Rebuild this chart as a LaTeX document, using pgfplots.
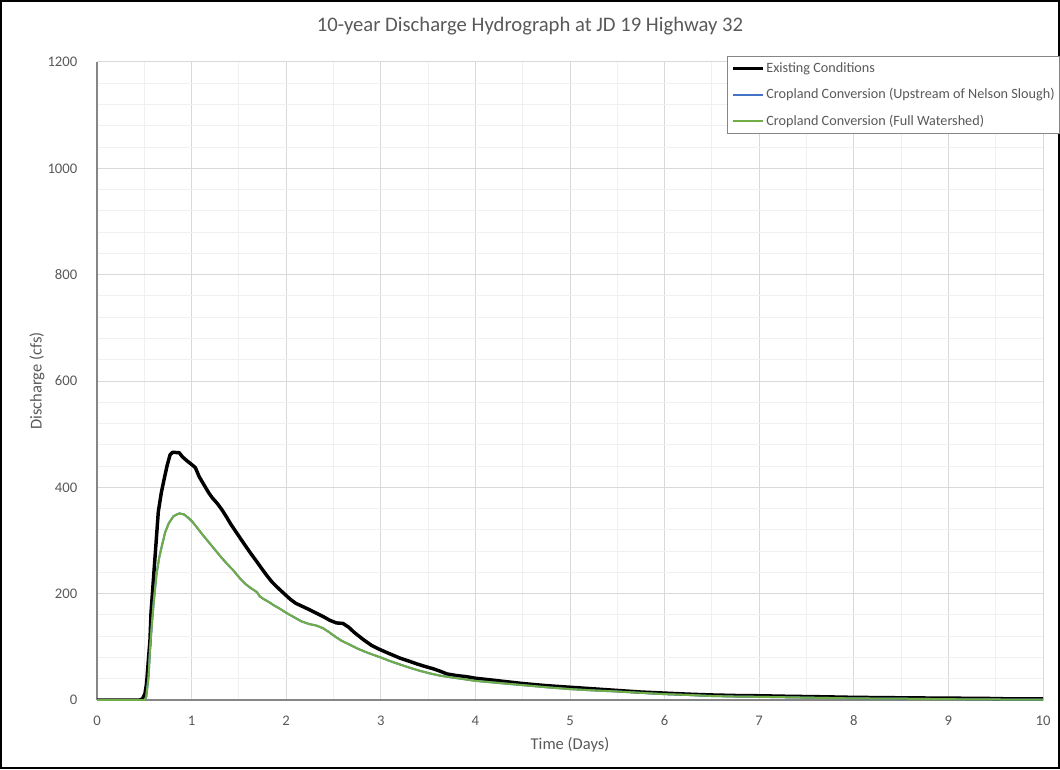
\documentclass[border=0pt]{standalone}
\usepackage{fontspec}
\setmainfont{Carlito}
\usepackage{pgfplots}
\pgfplotsset{compat=1.18}
\definecolor{txtgray}{HTML}{595959}
\definecolor{axgray}{HTML}{868686}
\definecolor{majgrid}{HTML}{D9D9D9}
\definecolor{mingrid}{HTML}{F0F0F0}
\definecolor{exblue}{HTML}{4472C4}
\definecolor{exgreen}{HTML}{70AD47}
\begin{document}
\begin{tikzpicture}
\useasboundingbox (0,0) rectangle (795pt,576.75pt);
\draw[black, line width=1.2pt] (0.9pt,0.9pt) rectangle (794.1pt,575.85pt);
\begin{axis}[
  at={(72.75pt,51.75pt)}, anchor=south west,
  scale only axis, width=709.5pt, height=478.5pt,
  xmin=0, xmax=10, ymin=0, ymax=1200,
  xtick={0,1,...,10}, ytick={0,200,...,1200},
  minor x tick num=1, minor y tick num=4,
  grid=both,
  major grid style={majgrid, line width=0.75pt},
  minor grid style={mingrid, line width=0.75pt},
  major tick length=0pt, minor tick length=0pt,
  axis lines*=left,
  axis line style={-, draw=axgray, line width=0.9pt},
  /pgf/number format/assume math mode=true,
  /pgf/number format/1000 sep={},
  tick label style={font=\fontsize{11}{13}\selectfont, text=txtgray},
  xticklabel style={anchor=center, yshift=-15.75pt},
  yticklabel style={anchor=east, xshift=-11.25pt},
  xlabel={Time (Days)},
  ylabel={Discharge (cfs)},
  label style={font=\fontsize{12.4}{14}\selectfont, text=txtgray},
  xlabel style={at={(axis description cs:0.5,-0.0705)}, anchor=center},
  ylabel style={at={(axis description cs:-0.0634,0.5)}, anchor=center},
  title={10-year Discharge Hydrograph at JD 19 Highway 32},
  title style={at={(axis description cs:0.4577,1.0439)}, anchor=center, font=\fontsize{15.5}{18}\selectfont, text=txtgray},
  legend style={at={(axis description cs:0.666,1.0094)}, anchor=north west,
    draw=axgray, fill=white, line width=0.75pt,
    font=\fontsize{10.65}{12.5}\selectfont, text=txtgray,
    inner xsep=3pt, inner ysep=3.5pt, row sep=8.5pt,
    nodes={inner sep=1pt}},
  legend cell align=left,
  legend image code/.code={\draw[#1] (0pt,0pt) -- (22.5pt,0pt);},
]
\addplot[black, line width=2.6pt, line join=round] coordinates {
(0,0) (0.45,0) (0.48,2) (0.507,12) (0.524,31) (0.543,75) (0.56,113) (0.571,164)
(0.60,236) (0.62,285) (0.648,354) (0.68,390) (0.708,414) (0.74,440) (0.772,461)
(0.80,466) (0.87,465) (0.90,458) (0.95,450) (1.00,443) (1.04,437) (1.08,420)
(1.13,405) (1.18,390) (1.22,380) (1.27,370) (1.32,358) (1.37,344) (1.41,332)
(1.47,316) (1.55,295) (1.62,277) (1.69,260) (1.75,245) (1.80,233) (1.85,222)
(1.90,213) (1.96,203) (2.04,190) (2.10,182) (2.22,172) (2.30,165) (2.39,157)
(2.46,150) (2.53,145) (2.60,144) (2.66,137) (2.72,127) (2.82,113) (2.90,103)
(2.99,95) (3.08,88) (3.20,79) (3.30,73) (3.38,68) (3.45,64) (3.55,59) (3.63,54)
(3.70,49) (3.80,46) (3.90,44) (4.0,41) (4.2,37) (4.5,31) (4.75,27) (5.0,24)
(5.25,21) (5.5,18) (5.75,15) (6.0,13) (6.25,11) (6.5,9.5) (6.75,8.5) (7.0,8)
(7.3,7) (7.7,6) (8.0,5) (8.3,4.5) (8.6,4) (9.0,3.5) (9.4,3) (9.7,2) (10.0,2)
};
\addlegendentry{Existing Conditions}
\addplot[exblue, line width=1.5pt, line join=round] coordinates {
(0,0) (0.50,0) (0.52,5) (0.545,44) (0.56,94) (0.578,138) (0.60,185) (0.63,238)
(0.66,270) (0.69,293) (0.72,315) (0.76,333) (0.81,346) (0.87,351) (0.92,349)
(0.97,342) (1.01,335) (1.05,326) (1.12,310) (1.19,295) (1.25,282) (1.31,269)
(1.37,257) (1.44,244) (1.51,229) (1.57,218) (1.63,210) (1.69,203) (1.72,195)
(1.76,190) (1.82,184) (1.87,178) (1.93,172) (2.00,164) (2.08,156) (2.16,148)
(2.24,143) (2.32,140) (2.39,135) (2.45,128) (2.52,119) (2.58,112) (2.66,105)
(2.75,97) (2.83,91) (2.92,85) (3.00,80) (3.10,73) (3.20,67) (3.30,61) (3.41,55)
(3.52,50) (3.62,46) (3.73,43) (3.85,40) (4.0,36) (4.25,32) (4.5,28) (4.75,24)
(5.0,20.5) (5.25,18) (5.5,16) (5.75,13.5) (6.0,11) (6.25,9.5) (6.5,7.5)
(6.75,6.5) (7.0,6) (7.5,4.5) (8.0,3) (8.5,2.5) (9.0,1.5) (9.5,1) (10.0,0.5)
};
\addlegendentry{Cropland Conversion (Upstream of Nelson Slough)}
\addplot[exgreen, line width=1.5pt, line join=round] coordinates {
(0,0) (0.50,0) (0.52,5) (0.545,44) (0.56,94) (0.578,138) (0.60,185) (0.63,238)
(0.66,270) (0.69,293) (0.72,315) (0.76,333) (0.81,346) (0.87,351) (0.92,349)
(0.97,342) (1.01,335) (1.05,326) (1.12,310) (1.19,295) (1.25,282) (1.31,269)
(1.37,257) (1.44,244) (1.51,229) (1.57,218) (1.63,210) (1.69,203) (1.72,195)
(1.76,190) (1.82,184) (1.87,178) (1.93,172) (2.00,164) (2.08,156) (2.16,148)
(2.24,143) (2.32,140) (2.39,135) (2.45,128) (2.52,119) (2.58,112) (2.66,105)
(2.75,97) (2.83,91) (2.92,85) (3.00,80) (3.10,73) (3.20,67) (3.30,61) (3.41,55)
(3.52,50) (3.62,46) (3.73,43) (3.85,40) (4.0,36) (4.25,32) (4.5,28) (4.75,24)
(5.0,20.5) (5.25,18) (5.5,16) (5.75,13.5) (6.0,11) (6.25,9.5) (6.5,7.5)
(6.75,6.5) (7.0,6) (7.5,4.5) (8.0,3) (8.5,2.5) (9.0,1.5) (9.5,1) (10.0,0.5)
};
\addlegendentry{Cropland Conversion (Full Watershed)}
\end{axis}
\end{tikzpicture}
\end{document}
